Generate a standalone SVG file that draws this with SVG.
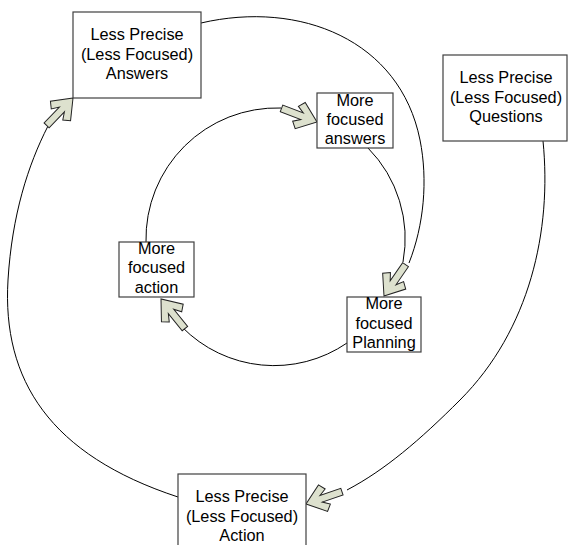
<svg xmlns="http://www.w3.org/2000/svg" width="568" height="545" viewBox="0 0 568 545">
<style>
.box{fill:#ffffff;stroke:#404040;stroke-width:1.2}
.lbl{font-family:"Liberation Sans",Arial,sans-serif;font-size:16.3px;fill:#000;text-anchor:middle}
.con{fill:none;stroke:#000;stroke-width:1}
.arr{fill:#dde1ce;stroke:#222;stroke-width:1}
</style>
<defs>
<polygon id="blk" points="0,0 -18,-14 -23,-8 -16,-3.5 -38,-3.5 -38,3.5 -16,3.5 -23,8 -18,14"/>
</defs>
<rect width="568" height="545" fill="#ffffff"/>
<g id="connectors">
<path class="con" d="M201,23 C300,0 400,40 420,140 C428,180 424,225 409,263"/>
<path class="con" d="M543,141 C552,230 530,330 460,400 C420,440 385,470 347,490"/>
<path class="con" d="M178,497 C50,455 2,380 8,280 C12,215 28,165 48,126"/>
<path class="con" d="M146,242 A131,131 0 0 1 281,108"/>
<path class="con" d="M368,148 A129,129 0 0 1 403,262"/>
<path class="con" d="M347,343 A129,129 0 0 1 182,327"/>
<use href="#blk" class="arr" transform="translate(73,98) rotate(-46)"/>
<use href="#blk" class="arr" transform="translate(317,122) rotate(21)"/>
<use href="#blk" class="arr" transform="translate(384,296) rotate(124.5)"/>
<use href="#blk" class="arr" transform="translate(161,299) rotate(231)"/>
<use href="#blk" class="arr" transform="translate(306,504) rotate(161)"/>
</g>
<g id="answers">
<rect class="box" x="73" y="12" width="128" height="86"/>
<text class="lbl" x="137" y="40">Less Precise</text>
<text class="lbl" x="137" y="59.5">(Less Focused)</text>
<text class="lbl" x="137" y="79">Answers</text>
</g>
<g id="questions">
<rect class="box" x="443" y="55" width="124" height="86"/>
<text class="lbl" x="506" y="83">Less Precise</text>
<text class="lbl" x="506" y="102.5">(Less Focused)</text>
<text class="lbl" x="506" y="122">Questions</text>
</g>
<g id="action">
<rect class="box" x="178" y="474" width="128" height="86"/>
<text class="lbl" x="242" y="502">Less Precise</text>
<text class="lbl" x="242" y="521.5">(Less Focused)</text>
<text class="lbl" x="242" y="541">Action</text>
</g>
<g id="focused-answers">
<rect class="box" x="317" y="93" width="76" height="55"/>
<text class="lbl" x="355" y="106">More</text>
<text class="lbl" x="355" y="125">focused</text>
<text class="lbl" x="355" y="144">answers</text>
</g>
<g id="focused-action">
<rect class="box" x="119" y="242" width="75" height="55"/>
<text class="lbl" x="156.5" y="254">More</text>
<text class="lbl" x="156.5" y="273">focused</text>
<text class="lbl" x="156.5" y="292.5">action</text>
</g>
<g id="focused-planning">
<rect class="box" x="347" y="297" width="74" height="55"/>
<text class="lbl" x="384" y="309">More</text>
<text class="lbl" x="384" y="328.5">focused</text>
<text class="lbl" x="384" y="348">Planning</text>
</g>
</svg>
